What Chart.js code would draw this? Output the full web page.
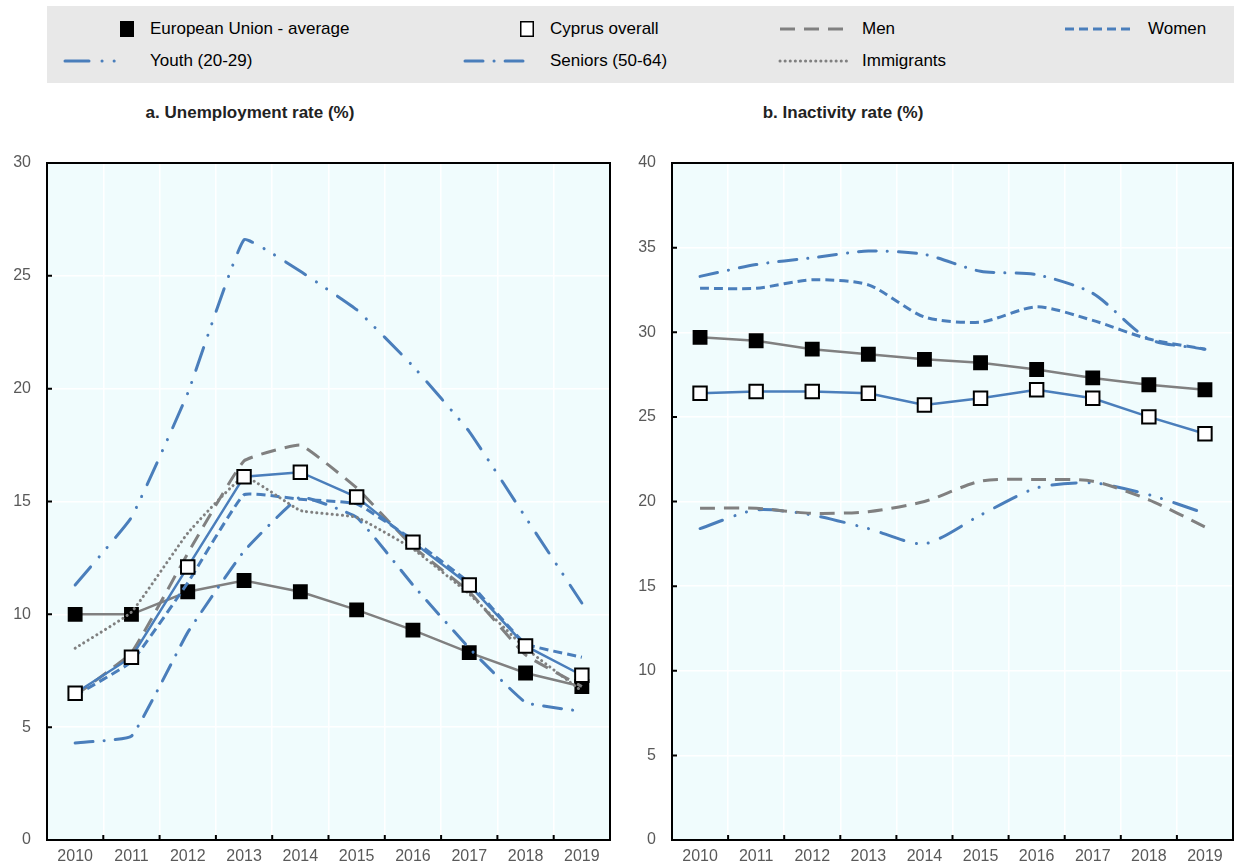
<!DOCTYPE html>
<html>
<head>
<meta charset="utf-8">
<script src="https://cdn.jsdelivr.net/npm/chart.js@4.4.0/dist/chart.umd.min.js"></script>
<style>
    body { margin: 0; background: #fff; font-family: "Liberation Sans", Arial, sans-serif; }
    #wrap { position: relative; width: 1234px; height: 866px; overflow: hidden; }
    #legend { position: absolute; left: 47px; top: 6px; width: 1187px; height: 77px; background: #e8e8e8; }
    .item { position: absolute; height: 20px; }
    .item canvas { position: absolute; top: 0; }
    .item span { position: absolute; top: 0; font-size: 17px; line-height: 20px; color: #000; white-space: nowrap; }
    .title { position: absolute; top: 103px; font-size: 17px; font-weight: bold; color: #222; transform: translateX(-50%); white-space: nowrap; }
    .chart { position: absolute; top: 150px; }
</style>
</head>
<body>
<div id="wrap">
    <div id="legend"></div>
    <div class="title" style="left:250px;">a. Unemployment rate (%)</div>
    <div class="title" style="left:843px;">b. Inactivity rate (%)</div>
    <canvas id="chart_unemp" class="chart" style="left:0px;" width="620" height="716"></canvas>
    <canvas id="chart_inact" class="chart" style="left:620px;" width="614" height="716"></canvas>
</div>
<script>
var years = ["2010", "2011", "2012", "2013", "2014", "2015", "2016", "2017", "2018", "2019"];

// a. Unemployment rate (%)
var unemp_eu = [10.0, 10.0, 11.0, 11.5, 11.0, 10.2, 9.3, 8.3, 7.4, 6.8];
var unemp_cyprus = [6.5, 8.1, 12.1, 16.1, 16.3, 15.2, 13.2, 11.3, 8.6, 7.3];
var unemp_men = [6.4, 8.3, 12.7, 16.8, 17.5, 15.6, 13.0, 11.0, 8.2, 6.8];
var unemp_women = [6.4, 7.9, 11.4, 15.3, 15.1, 14.9, 13.3, 11.4, 8.7, 8.1];
var unemp_youth = [11.3, 14.3, 19.8, 26.6, 25.2, 23.5, 21.0, 18.1, 14.3, 10.5];
var unemp_seniors = [4.3, 4.6, 9.2, 12.8, 15.2, 14.3, 11.3, 8.5, 6.1, 5.7];
var unemp_immigrants = [8.5, 10.1, 13.6, 16.1, 14.6, 14.3, 12.9, 10.9, 8.5, 6.6];

// b. Inactivity rate (%)
var inact_eu = [29.7, 29.5, 29.0, 28.7, 28.4, 28.2, 27.8, 27.3, 26.9, 26.6];
var inact_cyprus = [26.4, 26.5, 26.5, 26.4, 25.7, 26.1, 26.6, 26.1, 25.0, 24.0];
var inact_men = [19.6, 19.6, 19.3, 19.4, 20.0, 21.2, 21.3, 21.2, 20.1, 18.5];
var inact_women = [32.6, 32.6, 33.1, 32.8, 30.9, 30.6, 31.5, 30.7, 29.6, 29.0];
var inact_youth = [18.4, 19.5, 19.2, 18.4, 17.5, 19.2, 20.8, 21.1, 20.4, 19.3];
var inact_seniors = [33.3, 34.0, 34.4, 34.8, 34.6, 33.6, 33.4, 32.3, 29.6, 29.0];

var BLUE = "#4a7ebb";
var GREY = "#808080";
var FONT = "'Liberation Sans', Arial, sans-serif";

// line styles shared by chart and legend
var styles = {
    eu: {color: GREY, width: 2.5, dash: []},
    cyprus: {color: BLUE, width: 2.5, dash: []},
    men: {color: GREY, width: 3, dash: [15, 9], cap: "butt"},
    women: {color: BLUE, width: 3, dash: [9, 5], cap: "butt"},
    youth: {color: BLUE, width: 3, dash: [24, 13, 0.1, 12, 0.1, 13], cap: "round"},
    seniors: {color: BLUE, width: 3, dash: [18, 11, 0.1, 11], cap: "round"},
    immigrants: {color: GREY, width: 3, dash: [0.1, 5], cap: "round"}
};

function lineSet(label, data, key, tension) {
    var s = styles[key];
    return {
        label: label,
        data: data,
        borderColor: s.color,
        borderWidth: s.width,
        borderDash: s.dash,
        borderCapStyle: s.cap || "butt",
        tension: tension,
        pointRadius: 0,
        fill: false
    };
}

function markerSet(label, data, key, filled) {
    var s = styles[key];
    return {
        label: label,
        data: data,
        borderColor: s.color,
        borderWidth: s.width,
        tension: 0,
        fill: false,
        pointStyle: "rect",
        pointRadius: filled ? 10.5 : 9.5,
        pointBackgroundColor: filled ? "#000" : "#fff",
        pointBorderColor: "#000",
        pointBorderWidth: filled ? 0 : 2
    };
}

// plot background, frame and inward tick marks
var framePlugin = {
    id: "frame",
    beforeDraw: function(chart) {
        var a = chart.chartArea;
        var ctx = chart.ctx;
        ctx.save();
        ctx.fillStyle = "#f0fcfd";
        ctx.fillRect(a.left, a.top, a.right - a.left, a.bottom - a.top);
        ctx.restore();
    },
    afterDraw: function(chart) {
        var a = chart.chartArea;
        var ctx = chart.ctx;
        var x = chart.scales.x;
        var y = chart.scales.y;
        ctx.save();
        ctx.strokeStyle = "#000";
        ctx.lineWidth = 2;
        ctx.strokeRect(a.left, a.top, a.right - a.left, a.bottom - a.top);
        ctx.beginPath();
        for (var i = 0; i < years.length - 1; i++) {
            var bx = (x.getPixelForValue(i) + x.getPixelForValue(i + 1)) / 2;
            ctx.moveTo(bx, a.bottom);
            ctx.lineTo(bx, a.bottom - 5);
        }
        for (var j = 1; j < y.ticks.length - 1; j++) {
            var ty = y.getPixelForValue(y.ticks[j].value);
            ctx.moveTo(a.left, ty);
            ctx.lineTo(a.left + 5, ty);
        }
        ctx.stroke();
        ctx.restore();
    }
};

function makeChart(id, datasets, ymax, yWidth, padRight) {
    var ctx = document.getElementById(id).getContext("2d");
    return new Chart(ctx, {
        type: "line",
        data: {labels: years, datasets: datasets},
        plugins: [framePlugin],
        options: {
            responsive: false,
            animation: false,
            layout: {autoPadding: false, padding: {top: 13, right: padRight, left: 0, bottom: 0}},
            plugins: {legend: {display: false}, title: {display: false}, tooltip: {enabled: false}},
            scales: {
                x: {
                    offset: true,
                    grid: {color: "#ffffff", lineWidth: 1.5, offset: true, drawTicks: false},
                    border: {display: false},
                    ticks: {color: "#595959", font: {family: FONT, size: 16}, padding: 7, maxRotation: 0},
                    afterFit: function(scale) {
                        scale.height = 26;
                        scale.paddingLeft = 0;
                        scale.paddingRight = 0;
                    }
                },
                y: {
                    min: 0,
                    max: ymax,
                    grid: {color: "#ffffff", lineWidth: 1.5, drawTicks: false},
                    border: {display: false},
                    ticks: {stepSize: 5, color: "#595959", font: {family: FONT, size: 16}, padding: 16},
                    afterFit: function(scale) {
                        scale.width = yWidth;
                        scale.paddingTop = 0;
                        scale.paddingBottom = 0;
                    }
                }
            }
        }
    });
}

makeChart("chart_unemp", [
    markerSet("Cyprus overall", unemp_cyprus, "cyprus", false),
    lineSet("Immigrants", unemp_immigrants, "immigrants", 0.1),
    lineSet("Women", unemp_women, "women", 0.1),
    lineSet("Men", unemp_men, "men", 0.1),
    lineSet("Seniors (50-64)", unemp_seniors, "seniors", 0.1),
    lineSet("Youth (20-29)", unemp_youth, "youth", 0.1),
    markerSet("European Union - average", unemp_eu, "eu", true)
], 30, 47, 10);

makeChart("chart_inact", [
    markerSet("Cyprus overall", inact_cyprus, "cyprus", false),
    lineSet("Women", inact_women, "women", 0.25),
    lineSet("Men", inact_men, "men", 0.25),
    lineSet("Seniors (50-64)", inact_seniors, "seniors", 0.25),
    lineSet("Youth (20-29)", inact_youth, "youth", 0.25),
    markerSet("European Union - average", inact_eu, "eu", true)
], 40, 52, 1);

// legend built by hand (two rows, four columns)
var legend_items = [
    {label: "European Union - average", key: "eu", marker: "filled", x: 113, y: 19, sw: 30, tx: 37},
    {label: "Cyprus overall", key: "cyprus", marker: "open", x: 513, y: 19, sw: 30, tx: 37},
    {label: "Men", key: "men", x: 778, y: 19, sw: 72, tx: 84},
    {label: "Women", key: "women", x: 1063, y: 19, sw: 72, tx: 85},
    {label: "Youth (20-29)", key: "youth", x: 63, y: 51, sw: 58, tx: 87},
    {label: "Seniors (50-64)", key: "seniors", x: 463, y: 51, sw: 60, tx: 87},
    {label: "Immigrants", key: "immigrants", x: 778, y: 51, sw: 72, tx: 84}
];

function drawSwatch(c, item) {
    var g = c.getContext("2d");
    var s = styles[item.key];
    if (item.marker) {
        g.fillStyle = item.marker == "filled" ? "#000" : "#fff";
        g.fillRect(7, 2, 14, 16);
        if (item.marker == "open") {
            g.strokeStyle = "#000";
            g.lineWidth = 1.5;
            g.strokeRect(7.75, 2.75, 12.5, 14.5);
        }
        return;
    }
    g.strokeStyle = s.color;
    g.lineWidth = s.width;
    g.lineCap = s.cap || "butt";
    g.setLineDash(s.dash);
    g.beginPath();
    g.moveTo(2, 10);
    g.lineTo(item.sw, 10);
    g.stroke();
}

var wrap_div = document.getElementById("wrap");
for (var i in legend_items) {
    var item = legend_items[i];
    var box = document.createElement("div");
    box.className = "item";
    box.style.left = item.x + "px";
    box.style.top = item.y + "px";
    var c = document.createElement("canvas");
    c.width = item.sw + 4;
    c.height = 20;
    c.style.left = "0px";
    box.appendChild(c);
    drawSwatch(c, item);
    var t = document.createElement("span");
    t.textContent = item.label;
    t.style.left = item.tx + "px";
    box.appendChild(t);
    wrap_div.appendChild(box);
}
</script>
</body>
</html>
